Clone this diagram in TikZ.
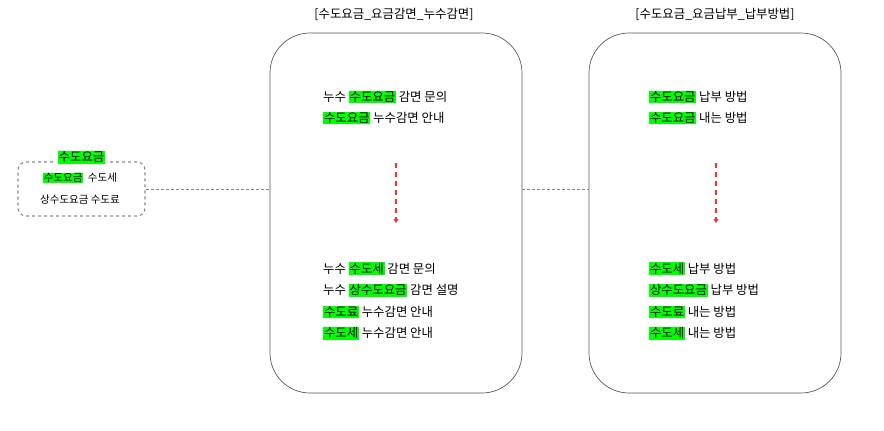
\documentclass[tikz,border=0pt]{standalone}
\usepackage{fontspec}
\setmainfont{Noto Sans CJK KR}
\usetikzlibrary{arrows.meta}
\definecolor{hlgreen}{HTML}{00FF00}
\definecolor{linegray}{HTML}{888888}
\definecolor{flowred}{HTML}{FF3030}
\newcommand{\hlword}[1]{{\setlength{\fboxsep}{0.8pt}\colorbox{hlgreen}{#1}}}
\tikzset{
  panel/.style={draw=black!65, line width=0.7pt, rounded corners=40pt, minimum width=252pt, minimum height=360pt, inner sep=0pt},
  keybox/.style={draw=linegray, dashed, line width=1.1pt, rounded corners=8pt, minimum width=127pt, minimum height=54pt, inner sep=0pt},
  keyrow/.style={font=\fontsize{10.5}{13}\selectfont},
  lines/.style={anchor=west, align=left, inner sep=0pt, font=\fontsize{12.4}{21.5}\selectfont},
  link/.style={draw=linegray, line width=1pt, dash pattern=on 3pt off 2pt},
  flow/.style={draw=flowred, line width=1.1pt, dash pattern=on 5pt off 4pt, -{Triangle[width=5pt,length=4pt]}}
}
\begin{document}
\begin{tikzpicture}[x=1pt, y=-1pt, font=\fontsize{12.4}{15}\selectfont]
\useasboundingbox (0,0) rectangle (884,431);
% keyword box
\node[keybox] (key) at (81.5,189) {};
\node[fill=white, inner sep=2pt] (keytitle) at (81.5,157.5) {\hlword{수도요금}};
\node[keyrow] (keyrow1) at (80,178) {\hlword{수도요금}\ \ 수도세};
\node[keyrow] (keyrow2) at (80,199.5) {상수도요금 수도료};
% panels
\node[panel] (p1) at (396,213) {};
\node[panel] (p2) at (715,213) {};
\node (p1title) at (394,14) {[수도요금\_요금감면\_누수감면]};
\node (p2title) at (715,14) {[수도요금\_요금납부\_납부방법]};
\draw[link] (key.east) -- (p1.west |- key.east);
\draw[link] (p1.east |- key.east) -- (p2.west |- key.east);
% panel 1
\node[lines] (p1top) at (323,107.5) {누수 \hlword{수도요금} 감면 문의\\ \hlword{수도요금} 누수감면 안내};
\node[lines] (p1bot) at (323,301) {누수 \hlword{수도세} 감면 문의\\ 누수 \hlword{상수도요금} 감면 설명\\ \hlword{수도료} 누수감면 안내\\ \hlword{수도세} 누수감면 안내};
\coordinate (f1a) at (396,163);
\coordinate (f1b) at (396,223);
\draw[flow] (f1a) -- (f1b);
% panel 2
\node[lines] (p2top) at (649,107.5) {\hlword{수도요금} 납부 방법\\ \hlword{수도요금} 내는 방법};
\node[lines] (p2bot) at (649,301) {\hlword{수도세} 납부 방법\\ \hlword{상수도요금} 납부 방법\\ \hlword{수도료} 내는 방법\\ \hlword{수도세} 내는 방법};
\coordinate (f2a) at (716,163);
\coordinate (f2b) at (716,223);
\draw[flow] (f2a) -- (f2b);
\end{tikzpicture}
\end{document}
